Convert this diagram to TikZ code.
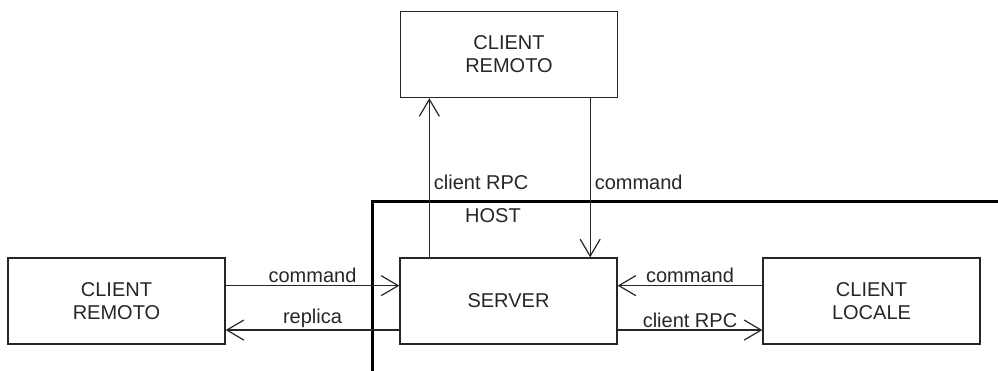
\documentclass[tikz,border=0pt]{standalone}
\usepackage{fontspec}
\setmainfont{Liberation Sans}
\usetikzlibrary{arrows.meta}
\definecolor{ink}{HTML}{262626}
\tikzset{
  box/.style={draw=ink, line width=1.3pt, minimum width=217pt, minimum height=86pt, inner sep=0pt, align=center, text=ink, font=\fontsize{20}{23}\selectfont},
  conn/.style={draw=ink, line width=1.2pt, -{Straight Barb[length=17pt,width=20pt,line width=1.2pt]}},
  lbl/.style={text=ink, font=\fontsize{20}{23}\selectfont, inner sep=2pt},
  hostline/.style={draw=black, line width=3.2pt}
}
\begin{document}
\begin{tikzpicture}[x=1pt,y=-1pt]
\useasboundingbox (0,0) rectangle (998,370);
\clip (0,0) rectangle (998,370);
% host frame
\coordinate (h1) at (1010,201.7);
\coordinate (h2) at (372.7,201.7);
\coordinate (h3) at (372.7,380);
\draw[hostline] (h1) -- (h2) -- (h3);
\node[lbl] (host) at (493,216) {HOST};
% boxes
\node[box] (top) at (509,54.5) {CLIENT\\REMOTO};
\node[box] (srv) at (508.5,301) {SERVER};
\node[box] (left) at (116.5,301) {CLIENT\\REMOTO};
\node[box] (right) at (871.5,301) {CLIENT\\LOCALE};
% vertical connectors
\draw[conn] (srv.north west) ++(30,0) coordinate (a1) -- (a1 |- top.south) node[lbl, pos=0.47, anchor=west, xshift=2pt] {client RPC};
\draw[conn] (top.south east) ++(-28,0) coordinate (b1) -- (b1 |- srv.north) node[lbl, pos=0.53, anchor=west, xshift=2pt] {command};
% left connectors
\draw[conn] ([yshift=-28.3pt]left.north east) -- ([yshift=-28.3pt]srv.north west) node[lbl, midway, above=0pt] {command};
\draw[conn] ([yshift=-72.7pt]srv.north west) -- ([yshift=-72.7pt]left.north east) node[lbl, midway, above=0pt] {replica};
% right connectors
\draw[conn] ([yshift=-28.3pt]right.north west) -- ([yshift=-28.3pt]srv.north east) node[lbl, midway, above=0pt] {command};
\draw[conn] ([yshift=-72.7pt]srv.north east) -- ([yshift=-72.7pt]right.north west) node[lbl, midway, above=0pt] {client RPC};
\end{tikzpicture}
\end{document}
